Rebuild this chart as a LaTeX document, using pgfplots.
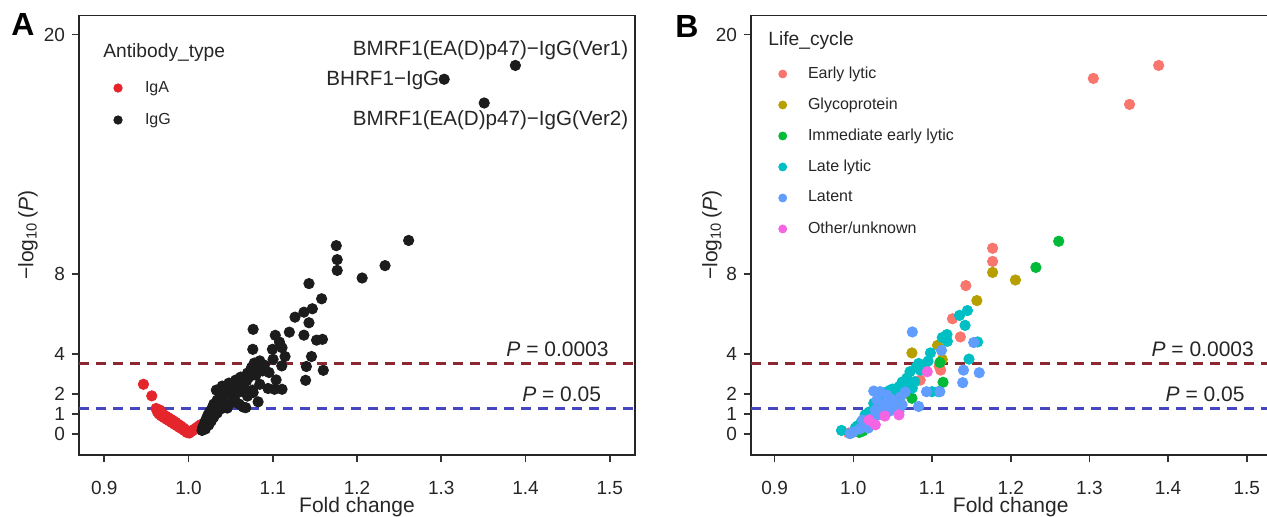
\documentclass[border=0pt]{standalone}
\usepackage{fontspec}
\setmainfont{Liberation Sans}
\usepackage{pgfplots}
\pgfplotsset{compat=1.18}
\usepackage{pgfplotstable}

\definecolor{igA}{RGB}{228,38,44}
\definecolor{igG}{RGB}{28,28,28}
\definecolor{thrred}{RGB}{140,40,50}
\definecolor{thrblue}{RGB}{70,70,190}
\definecolor{cEarly}{HTML}{F8766D}
\definecolor{cGly}{HTML}{B79F00}
\definecolor{cIE}{HTML}{00BA38}
\definecolor{cLate}{HTML}{00BFC4}
\definecolor{cLatent}{HTML}{619CFF}
\definecolor{cOther}{HTML}{F564E3}

% ---------- Panel A data ----------
\pgfplotstableread{
x y
0.9465 2.49
0.9564 1.91
0.9615 1.28
0.963 1.12
0.965 1.00
0.967 1.10
0.968 0.90
0.970 0.98
0.971 0.82
0.973 0.90
0.974 0.74
0.976 0.82
0.977 0.66
0.979 0.74
0.980 0.58
0.982 0.66
0.983 0.50
0.985 0.58
0.986 0.42
0.988 0.48
0.989 0.34
0.991 0.40
0.992 0.26
0.994 0.30
0.995 0.18
0.997 0.20
0.998 0.08
1.000 0.10
1.001 0.05
1.003 0.12
1.005 0.18
1.007 0.24
1.009 0.30
1.011 0.36
1.013 0.42
1.015 0.48
0.966 1.20
}\dataIgA

\pgfplotstableread{
x y
1.3035 17.76
1.388 18.45
1.351 16.57
1.2613 9.69
1.1754 9.43
1.1765 8.73
1.1765 8.19
1.2061 7.81
1.2333 8.43
1.143 7.53
1.158 6.77
1.147 6.27
1.137 6.10
1.1264 5.85
1.143 5.57
1.1197 5.10
1.137 4.95
1.0767 5.24
1.103 4.94
1.108 4.60
1.152 4.70
1.159 4.74
1.0763 4.24
1.0996 4.24
1.111 4.32
1.1146 3.88
1.146 3.88
1.1004 3.74
1.0846 3.66
1.1107 3.41
1.1399 3.38
1.160 3.19
1.0748 3.33
1.0878 3.16
1.0956 3.08
1.139 2.69
1.104 2.71
1.0689 2.66
1.064 2.58
1.057 2.44
1.047 2.33
1.037 2.21
1.0944 2.28
1.102 2.24
1.111 2.24
1.0846 2.49
1.0767 2.08
1.0826 1.61
1.090 3.45
1.080 2.95
1.072 2.85
1.066 2.30
1.060 2.10
1.054 1.95
1.050 2.10
1.044 2.00
1.040 1.80
1.034 1.70
1.030 1.50
1.028 1.30
1.025 1.10
1.023 0.95
1.021 0.75
1.019 0.55
1.017 0.35
1.016 0.18
1.020 0.25
1.024 0.45
1.027 0.65
1.030 0.85
1.034 1.05
1.038 1.25
1.042 1.45
1.046 1.30
1.050 1.55
1.055 1.70
1.060 1.50
1.065 1.35
1.070 1.90
1.076 2.20
1.068 1.32
1.033 2.20
1.040 2.40
1.048 2.55
1.056 2.70
1.062 2.85
1.070 3.05
1.078 3.55
1.085 3.30
}\dataIgG

% ---------- Panel B data ----------
\pgfplotstableread{
x y
1.305 17.8
1.388 18.45
1.351 16.5
1.177 9.30
1.177 8.64
1.143 7.43
1.126 5.77
1.136 4.86
1.111 3.20
1.109 3.40
1.0576 1.71
1.070 2.45
1.028 1.13
1.036 1.79
1.085 2.70
0.994 0.05
1.045 1.30
1.052 1.25
1.040 1.00
1.068 2.05
}\dataEarly

\pgfplotstableread{
x y
1.177 8.09
1.206 7.71
1.157 6.68
1.0745 4.06
1.107 4.44
1.113 3.73
1.049 1.54
1.052 1.63
1.024 0.46
1.045 1.20
}\dataGly

\pgfplotstableread{
x y
1.261 9.65
1.232 8.34
1.110 3.58
1.114 2.59
1.0745 1.79
1.0076 0.08
1.012 0.15
1.054 1.40
}\dataIE

\pgfplotstableread{
x y
1.145 6.18
1.135 5.94
1.142 5.44
1.119 4.98
1.113 4.83
1.1195 4.64
1.158 4.61
1.147 3.75
1.098 4.06
1.083 3.53
1.072 3.12
1.078 2.62
1.085 3.20
1.065 2.50
1.058 2.37
1.047 2.20
1.036 1.96
1.026 1.54
1.015 0.96
1.0025 0.30
0.985 0.18
1.108 2.12
1.100 2.12
1.080 3.35
1.090 3.40
1.095 3.65
1.068 2.80
1.062 2.60
1.075 2.30
1.042 2.10
1.030 1.40
1.020 1.10
1.010 0.60
1.005 0.40
1.050 2.25
1.055 1.90
}\dataLate

\pgfplotstableread{
x y
1.075 5.11
1.112 4.19
1.153 4.58
1.140 3.20
1.160 3.07
1.139 2.57
1.110 2.12
1.093 2.12
1.083 1.38
1.034 2.12
1.041 1.54
1.053 1.46
1.032 0.96
1.024 0.80
1.019 0.30
0.996 0.02
1.062 1.46
1.058 1.13
1.045 1.13
1.022 0.55
1.038 1.30
1.048 1.75
1.028 1.20
1.015 0.45
1.000 0.10
1.008 0.25
1.012 0.70
1.066 2.10
1.060 1.85
1.043 1.95
1.030 1.70
1.026 2.15
}\dataLatent

\pgfplotstableread{
x y
1.094 3.12
1.028 0.46
1.058 0.96
1.020 0.70
1.040 0.90
}\dataOther

\pgfplotstableread{
x y
0.87 3.523
1.53 3.523
}\lineRed
\pgfplotstableread{
x y
0.87 1.301
1.53 1.301
}\lineBlue

\pgfplotsset{
  volc/.style={
    scale only axis,
    height=219.75pt,
    xmin=0.87, xmax=1.53, ymin=-1.05, ymax=20.95,
    xtick={0.9,1.0,1.1,1.2,1.3,1.4,1.5},
    xticklabels={0.9,1.0,1.1,1.2,1.3,1.4,1.5},
    ytick={0,1,2,4,8,20},
    yticklabels={0,1,2,4,8,20},
    tick align=outside, xtick pos=left, ytick pos=left,
    major tick length=3.5pt,
    tick style={black!80, line width=0.8pt},
    axis line style={black!85, line width=0.9pt},
    ticklabel style={font=\fontsize{9.5}{9.5}\selectfont, text=black!85},
    xticklabel style={yshift=-6pt},
    label style={font=\fontsize{10.5}{10.5}\selectfont, text=black!85},
    xlabel={Fold change},
    xlabel style={at={(axis description cs:0.5,0)}, anchor=center, yshift=-26pt},
    ylabel={−log\textsubscript{10}\,(\textit{P})},
    legend cell align=left,
    pt/.style={only marks, mark=*, mark size=2.6pt, draw=none},
  },
}

\begin{document}
\begin{tikzpicture}
% ================= Panel A =================
\begin{axis}[volc,
  width=278pt,
  at={(0pt,0pt)}, anchor=south west,
  ylabel style={at={(axis description cs:-0.092,0.5)}, anchor=center},
  legend image code/.code={\path (0pt,-8pt) (18.5pt,8pt); \draw[#1, mark size=2.1pt] plot coordinates {(5pt,0pt)};},
  legend style={at={(axis description cs:0.0522,0.8714)}, anchor=north west,
    draw=none, fill=none, inner sep=0pt, outer sep=0pt,
    row sep=0pt, column sep=0pt,
    nodes={inner sep=0pt, anchor=west},
    cells={anchor=west},
    font=\fontsize{8}{8}\selectfont, text=black!85},
]
\addplot[pt, color=igA, fill=igA] table {\dataIgA};
\addlegendentry{IgA}
\addplot[pt, color=igG, fill=igG] table {\dataIgG};
\addlegendentry{IgG}
\addplot[thrred, line width=1.3pt, dash pattern=on 5pt off 3.5pt, forget plot] table {\lineRed};
\addplot[thrblue, line width=1.5pt, dash pattern=on 5pt off 3.5pt, forget plot] table {\lineBlue};
\node[anchor=base, font=\fontsize{10.5}{10.5}\selectfont, text=black!85, yshift=3.5pt] at (axis cs:1.438,3.523) {\textit{P} = 0.0003};
\node[anchor=base, font=\fontsize{10.5}{10.5}\selectfont, text=black!85, yshift=3.5pt] at (axis cs:1.443,1.301) {\textit{P} = 0.05};
\node[anchor=west, inner sep=0pt, font=\fontsize{9.6}{9.6}\selectfont, text=black!85] at (axis description cs:0.0432,0.9147) {Antibody\_type};
\node[font=\fontsize{10.3}{10.3}\selectfont, text=black!85] at (axis cs:1.3586,19.22) {BMRF1(EA(D)p47)−IgG(Ver1)};
\node[font=\fontsize{10.3}{10.3}\selectfont, text=black!85] at (axis cs:1.2307,17.72) {BHRF1−IgG};
\node[font=\fontsize{10.3}{10.3}\selectfont, text=black!85] at (axis cs:1.3586,15.72) {BMRF1(EA(D)p47)−IgG(Ver2)};
\end{axis}

% ================= Panel B =================
\begin{axis}[volc,
  width=259.7pt,
  at={(336pt,0pt)}, anchor=south west,
  ylabel style={at={(axis description cs:-0.075,0.5)}, anchor=center},
  legend image code/.code={\path (0pt,-7.75pt) (17.65pt,7.75pt); \draw[#1, mark size=2pt] plot coordinates {(5pt,0pt)};},
  legend style={at={(axis description cs:0.0418,0.9022)}, anchor=north west,
    draw=none, fill=none, inner sep=0pt, outer sep=0pt,
    row sep=0pt, column sep=0pt,
    nodes={inner sep=0pt, anchor=west},
    cells={anchor=west},
    font=\fontsize{8}{8}\selectfont, text=black!85},
]
\addplot[pt, color=cEarly, fill=cEarly] table {\dataEarly};
\addlegendentry{Early lytic}
\addplot[pt, color=cGly, fill=cGly] table {\dataGly};
\addlegendentry{Glycoprotein}
\addplot[pt, color=cIE, fill=cIE] table {\dataIE};
\addlegendentry{Immediate early lytic}
\addplot[pt, color=cLate, fill=cLate] table {\dataLate};
\addlegendentry{Late lytic}
\addplot[pt, color=cLatent, fill=cLatent] table {\dataLatent};
\addlegendentry{Latent}
\addplot[pt, color=cOther, fill=cOther] table {\dataOther};
\addlegendentry{Other/unknown}
\addplot[thrred, line width=1.3pt, dash pattern=on 5pt off 3.5pt, forget plot] table {\lineRed};
\addplot[thrblue, line width=1.5pt, dash pattern=on 5pt off 3.5pt, forget plot] table {\lineBlue};
\node[anchor=base, font=\fontsize{10.5}{10.5}\selectfont, text=black!85, yshift=3.5pt] at (axis cs:1.444,3.523) {\textit{P} = 0.0003};
\node[anchor=base, font=\fontsize{10.5}{10.5}\selectfont, text=black!85, yshift=3.5pt] at (axis cs:1.447,1.301) {\textit{P} = 0.05};
\node[anchor=west, inner sep=0pt, font=\fontsize{9.6}{9.6}\selectfont, text=black!85] at (axis description cs:0.0327,0.942) {Life\_cycle};
\end{axis}

\node[font=\bfseries\fontsize{16}{16}\selectfont] at (-28pt,215.25pt) {A};
\node[font=\bfseries\fontsize{16}{16}\selectfont] at (304pt,214.5pt) {B};

\pgfresetboundingbox
\path (-39.5pt,-30.5pt) rectangle (594pt,227.5pt);
\end{tikzpicture}
\end{document}
